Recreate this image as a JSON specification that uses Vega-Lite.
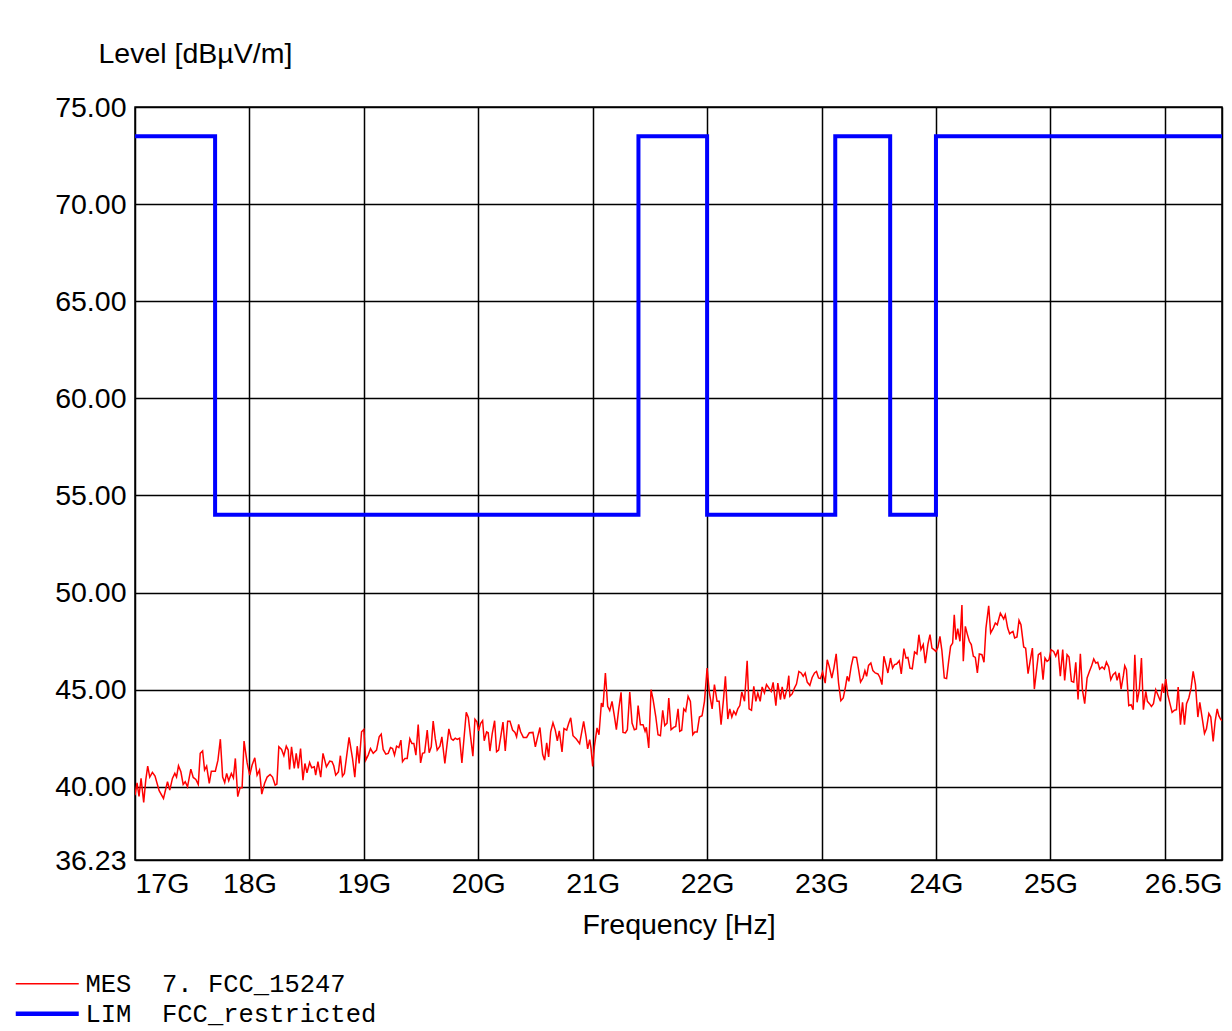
{
  "$schema": "https://vega.github.io/schema/vega-lite/v6.json",
  "width": 1087,
  "height": 753,
  "autosize": {"type": "none"},
  "padding": {"left": 135, "top": 107, "right": 10, "bottom": 171},
  "background": "white",
  "config": {
    "view": {"stroke": "#000", "strokeWidth": 1.5},
    "font": "Liberation Sans"
  },
  "datasets": {
    "lim": [
      {"f": 17, "v": 73.5}, {"f": 17.7, "v": 54}, {"f": 21.4, "v": 73.5}, {"f": 22, "v": 54},
      {"f": 23.12, "v": 73.5}, {"f": 23.6, "v": 54}, {"f": 24, "v": 73.5}, {"f": 26.5, "v": 73.5}
    ],
    "mes": [
      {"f":17.000,"v":39.57},{"f":17.018,"v":40.2},{"f":17.035,"v":39.5},{"f":17.053,"v":40.43},{"f":17.076,"v":39.2},
      {"f":17.094,"v":40.34},{"f":17.111,"v":41.06},{"f":17.129,"v":40.5},{"f":17.152,"v":40.74},{"f":17.175,"v":40.55},
      {"f":17.211,"v":39.8},{"f":17.249,"v":39.4},{"f":17.284,"v":40.26},{"f":17.304,"v":39.83},{"f":17.327,"v":40.43},
      {"f":17.348,"v":40.69},{"f":17.363,"v":40.5},{"f":17.380,"v":41.08},{"f":17.401,"v":40.77},{"f":17.421,"v":40.12},
      {"f":17.439,"v":40.26},{"f":17.459,"v":40.0},{"f":17.488,"v":40.91},{"f":17.509,"v":40.48},{"f":17.532,"v":40.38},
      {"f":17.553,"v":40.12},{"f":17.570,"v":41.72},{"f":17.591,"v":41.85},{"f":17.608,"v":40.86},{"f":17.626,"v":41.06},
      {"f":17.649,"v":40.17},{"f":17.667,"v":40.8},{"f":17.702,"v":40.8},{"f":17.725,"v":41.37},{"f":17.746,"v":42.45},
      {"f":17.766,"v":40.5},{"f":17.784,"v":40.22},{"f":17.801,"v":40.69},{"f":17.819,"v":40.31},{"f":17.842,"v":40.69},
      {"f":17.860,"v":40.46},{"f":17.877,"v":41.46},{"f":17.898,"v":39.49},{"f":17.918,"v":39.95},{"f":17.936,"v":39.95},
      {"f":17.953,"v":42.35},{"f":17.980,"v":41.23},{"f":18.003,"v":40.6},{"f":18.023,"v":41.11},{"f":18.047,"v":41.49},
      {"f":18.067,"v":40.6},{"f":18.088,"v":40.86},{"f":18.108,"v":39.62},{"f":18.132,"v":40.17},{"f":18.155,"v":40.5},
      {"f":18.181,"v":40.63},{"f":18.202,"v":40.5},{"f":18.225,"v":40.09},{"f":18.240,"v":40.14},{"f":18.257,"v":42.06},
      {"f":18.281,"v":41.92},{"f":18.301,"v":41.6},{"f":18.322,"v":42.09},{"f":18.339,"v":41.89},{"f":18.351,"v":40.89},
      {"f":18.368,"v":42.06},{"f":18.392,"v":40.94},{"f":18.409,"v":41.72},{"f":18.427,"v":40.94},{"f":18.447,"v":41.97},
      {"f":18.468,"v":40.34},{"f":18.485,"v":41.2},{"f":18.503,"v":40.72},{"f":18.526,"v":41.25},{"f":18.544,"v":40.98},
      {"f":18.567,"v":41.03},{"f":18.579,"v":40.6},{"f":18.599,"v":41.29},{"f":18.623,"v":40.5},{"f":18.643,"v":41.72},
      {"f":18.673,"v":41.03},{"f":18.702,"v":41.32},{"f":18.722,"v":41.29},{"f":18.737,"v":41.08},{"f":18.754,"v":40.6},
      {"f":18.778,"v":40.77},{"f":18.795,"v":41.6},{"f":18.813,"v":40.55},{"f":18.830,"v":40.69},{"f":18.871,"v":42.54},
      {"f":18.901,"v":41.46},{"f":18.921,"v":40.5},
      {"f":18.942,"v":42.09},{"f":18.959,"v":41.2},{"f":18.980,"v":42.83},{"f":19.000,"v":42.95},{"f":19.017,"v":41.37},
      {"f":19.038,"v":41.63},{"f":19.058,"v":41.97},{"f":19.082,"v":41.72},{"f":19.111,"v":41.89},{"f":19.134,"v":42.57},
      {"f":19.152,"v":42.71},{"f":19.169,"v":41.92},{"f":19.192,"v":41.68},{"f":19.213,"v":41.72},{"f":19.233,"v":42.02},
      {"f":19.251,"v":41.97},{"f":19.268,"v":41.63},{"f":19.286,"v":42.09},{"f":19.306,"v":42.02},{"f":19.324,"v":42.4},
      {"f":19.338,"v":41.29},{"f":19.359,"v":41.46},{"f":19.379,"v":41.46},{"f":19.402,"v":42.47},{"f":19.420,"v":42.23},
      {"f":19.437,"v":42.23},{"f":19.455,"v":41.63},{"f":19.475,"v":43.21},{"f":19.496,"v":41.23},{"f":19.513,"v":41.72},
      {"f":19.531,"v":41.75},{"f":19.554,"v":42.92},{"f":19.571,"v":41.75},{"f":19.589,"v":42.06},{"f":19.606,"v":43.38},
      {"f":19.624,"v":42.49},{"f":19.641,"v":41.89},{"f":19.665,"v":42.09},{"f":19.682,"v":42.57},{"f":19.708,"v":41.2},
      {"f":19.743,"v":42.98},{"f":19.764,"v":42.47},{"f":19.781,"v":42.4},{"f":19.799,"v":42.5},{"f":19.816,"v":42.44},
      {"f":19.837,"v":42.5},{"f":19.857,"v":41.23},{"f":19.895,"v":43.84},{"f":19.913,"v":43.57},{"f":19.933,"v":42.57},
      {"f":19.953,"v":41.58},{"f":19.971,"v":43.48},{"f":19.988,"v":43.35},{"f":20.003,"v":42.88},{"f":20.020,"v":43.26},
      {"f":20.038,"v":43.41},{"f":20.052,"v":42.37},{"f":20.073,"v":42.83},{"f":20.087,"v":42.78},{"f":20.102,"v":41.84},
      {"f":20.122,"v":42.74},{"f":20.143,"v":43.4},{"f":20.160,"v":41.8},{"f":20.178,"v":41.89},{"f":20.195,"v":42.52},
      {"f":20.216,"v":43.33},{"f":20.236,"v":41.85},{"f":20.257,"v":43.38},{"f":20.277,"v":43.38},{"f":20.300,"v":42.92},
      {"f":20.321,"v":42.8},{"f":20.335,"v":42.57},{"f":20.353,"v":43.21},{"f":20.370,"v":42.83},{"f":20.394,"v":42.54},
      {"f":20.423,"v":42.54},{"f":20.446,"v":42.78},{"f":20.478,"v":42.8},{"f":20.499,"v":42.06},{"f":20.519,"v":42.57},
      {"f":20.539,"v":43.05},{"f":20.563,"v":41.66},{"f":20.580,"v":41.37},{"f":20.598,"v":42.26},{"f":20.615,"v":41.54},
      {"f":20.633,"v":42.83},{"f":20.653,"v":43.3},{"f":20.673,"v":42.92},{"f":20.691,"v":42.37},{"f":20.708,"v":42.88},
      {"f":20.732,"v":41.8},{"f":20.749,"v":43.0},{"f":20.773,"v":42.92},{"f":20.790,"v":43.26},{"f":20.808,"v":43.55},
      {"f":20.828,"v":42.63},{"f":20.857,"v":42.46},{"f":20.886,"v":42.22},{"f":20.921,"v":43.37},{"f":20.942,"v":42.6},
      {"f":20.956,"v":41.95},{"f":20.974,"v":42.43},{"f":20.985,"v":42.0},{"f":21.000,"v":41.05},{"f":21.015,"v":42.08},
      {"f":21.038,"v":43.03},{"f":21.055,"v":42.68},{"f":21.076,"v":44.31},{"f":21.090,"v":44.11},{"f":21.111,"v":45.86},
      {"f":21.131,"v":44.14},{"f":21.149,"v":43.92},{"f":21.169,"v":44.4},{"f":21.190,"v":43.63},{"f":21.207,"v":42.94},
      {"f":21.227,"v":43.97},{"f":21.248,"v":44.86},{"f":21.265,"v":42.8},{"f":21.286,"v":42.77},{"f":21.303,"v":42.94},
      {"f":21.324,"v":44.88},{"f":21.344,"v":43.28},{"f":21.364,"v":42.94},{"f":21.382,"v":42.98},{"f":21.397,"v":44.18},
      {"f":21.417,"v":43.2},{"f":21.440,"v":43.2},{"f":21.458,"v":42.86},{"f":21.469,"v":43.06},{"f":21.490,"v":42.0},
      {"f":21.510,"v":45.0},{"f":21.528,"v":44.49},{"f":21.551,"v":43.63},{"f":21.571,"v":42.68},{"f":21.592,"v":42.63},
      {"f":21.612,"v":43.94},{"f":21.630,"v":43.15},{"f":21.650,"v":43.28},{"f":21.665,"v":44.57},{"f":21.685,"v":42.94},
      {"f":21.708,"v":43.06},{"f":21.726,"v":43.11},{"f":21.746,"v":44.01},{"f":21.761,"v":42.86},{"f":21.778,"v":42.91},
      {"f":21.796,"v":44.01},{"f":21.813,"v":43.89},{"f":21.834,"v":44.66},{"f":21.854,"v":44.4},{"f":21.875,"v":42.68},
      {"f":21.892,"v":42.82},{"f":21.913,"v":42.82},{"f":21.933,"v":43.59},{"f":21.956,"v":43.66},{"f":21.977,"v":44.4},
      {"f":22.000,"v":46.11},{"f":22.020,"v":44.83},{"f":22.044,"v":44.01},{"f":22.064,"v":45.26},{"f":22.087,"v":44.4},
      {"f":22.105,"v":44.4},{"f":22.122,"v":43.2},{"f":22.143,"v":44.49},{"f":22.160,"v":45.69},{"f":22.181,"v":43.49},
      {"f":22.198,"v":44.01},{"f":22.216,"v":43.59},{"f":22.233,"v":43.89},{"f":22.251,"v":43.71},{"f":22.268,"v":44.01},
      {"f":22.286,"v":44.18},{"f":22.303,"v":44.88},{"f":22.327,"v":44.4},{"f":22.350,"v":46.49},{"f":22.367,"v":44.01},
      {"f":22.388,"v":43.94},{"f":22.408,"v":45.17},{"f":22.426,"v":44.4},{"f":22.443,"v":44.83},{"f":22.464,"v":44.4},
      {"f":22.481,"v":45.14},{"f":22.501,"v":44.83},{"f":22.519,"v":45.26},{"f":22.539,"v":45.09},{"f":22.560,"v":44.91},
      {"f":22.577,"v":45.38},{"f":22.601,"v":44.18},{"f":22.618,"v":45.34},{"f":22.641,"v":44.49},{"f":22.656,"v":45.14},
      {"f":22.676,"v":44.52},{"f":22.700,"v":45.09},{"f":22.714,"v":45.72},
      {"f":22.723,"v":44.66},{"f":22.743,"v":44.78},{"f":22.764,"v":45.09},{"f":22.781,"v":45.29},{"f":22.802,"v":45.94},
      {"f":22.822,"v":45.86},{"f":22.840,"v":45.69},{"f":22.857,"v":45.86},{"f":22.875,"v":45.39},{"f":22.898,"v":45.22},
      {"f":22.918,"v":45.63},{"f":22.939,"v":45.86},{"f":22.956,"v":45.94},{"f":22.974,"v":45.6},{"f":22.991,"v":45.57},
      {"f":23.009,"v":45.91},{"f":23.032,"v":45.34},{"f":23.050,"v":46.54},{"f":23.067,"v":46.2},{"f":23.090,"v":45.6},
      {"f":23.108,"v":46.11},{"f":23.128,"v":46.84},{"f":23.149,"v":45.34},{"f":23.169,"v":44.43},{"f":23.190,"v":44.57},
      {"f":23.210,"v":45.17},{"f":23.224,"v":45.69},{"f":23.239,"v":45.43},{"f":23.259,"v":46.2},{"f":23.277,"v":46.68},
      {"f":23.306,"v":46.66},{"f":23.324,"v":46.03},{"f":23.341,"v":45.39},{"f":23.362,"v":45.6},{"f":23.379,"v":45.98},
      {"f":23.394,"v":45.69},{"f":23.411,"v":46.25},{"f":23.431,"v":46.37},{"f":23.449,"v":45.98},{"f":23.469,"v":45.86},
      {"f":23.493,"v":45.81},{"f":23.510,"v":45.63},{"f":23.528,"v":45.26},{"f":23.545,"v":46.72},{"f":23.563,"v":46.29},
      {"f":23.580,"v":45.86},{"f":23.603,"v":46.63},{"f":23.621,"v":46.11},{"f":23.638,"v":46.29},{"f":23.656,"v":46.32},
      {"f":23.679,"v":46.49},{"f":23.697,"v":45.81},{"f":23.720,"v":47.11},{"f":23.738,"v":46.63},{"f":23.755,"v":46.66},
      {"f":23.773,"v":46.11},{"f":23.793,"v":46.08},{"f":23.813,"v":46.94},{"f":23.834,"v":46.84},{"f":23.851,"v":47.83},
      {"f":23.869,"v":47.06},{"f":23.889,"v":47.32},{"f":23.907,"v":46.37},{"f":23.930,"v":47.35},{"f":23.948,"v":47.83},
      {"f":23.965,"v":47.14},{"f":23.983,"v":47.06},{"f":24.000,"v":46.97},{"f":24.017,"v":47.18},{"f":24.035,"v":47.74},
      {"f":24.052,"v":47.01},{"f":24.073,"v":45.6},{"f":24.093,"v":45.57},{"f":24.111,"v":46.46},{"f":24.128,"v":47.23},
      {"f":24.146,"v":47.4},{"f":24.160,"v":48.86},{"f":24.175,"v":47.57},{"f":24.190,"v":48.14},{"f":24.210,"v":47.49},
      {"f":24.227,"v":49.36},{"f":24.239,"v":46.46},{"f":24.257,"v":48.26},{"f":24.274,"v":47.86},{"f":24.292,"v":47.49},
      {"f":24.309,"v":47.32},{"f":24.327,"v":46.72},{"f":24.344,"v":46.66},{"f":24.362,"v":45.86},{"f":24.379,"v":46.84},
      {"f":24.402,"v":46.8},{"f":24.420,"v":46.41},{"f":24.437,"v":48.17},{"f":24.461,"v":49.32},{"f":24.478,"v":47.92},
      {"f":24.501,"v":48.17},{"f":24.519,"v":48.43},{"f":24.536,"v":48.34},
      {"f":24.563,"v":48.94},{"f":24.592,"v":48.64},{"f":24.606,"v":48.86},{"f":24.627,"v":48.17},{"f":24.644,"v":47.88},
      {"f":24.659,"v":47.95},{"f":24.673,"v":48.0},{"f":24.688,"v":47.66},{"f":24.708,"v":47.71},{"f":24.726,"v":48.57},
      {"f":24.743,"v":48.34},{"f":24.767,"v":47.2},{"f":24.784,"v":47.14},{"f":24.805,"v":45.82},{"f":24.825,"v":46.54},
      {"f":24.843,"v":47.14},{"f":24.860,"v":45.03},{"f":24.878,"v":45.94},{"f":24.895,"v":46.8},{"f":24.915,"v":46.89},
      {"f":24.936,"v":45.51},{"f":24.953,"v":46.63},{"f":24.971,"v":46.46},{"f":24.988,"v":46.54},{"f":25.006,"v":47.06},
      {"f":25.029,"v":46.97},{"f":25.047,"v":46.72},{"f":25.067,"v":47.06},{"f":25.087,"v":45.69},{"f":25.108,"v":47.06},
      {"f":25.125,"v":45.48},{"f":25.146,"v":46.8},{"f":25.163,"v":46.68},{"f":25.184,"v":45.43},{"f":25.204,"v":45.38},
      {"f":25.222,"v":46.41},{"f":25.242,"v":44.49},{"f":25.262,"v":46.85},{"f":25.280,"v":45.0},{"f":25.300,"v":44.28},
      {"f":25.321,"v":45.6},{"f":25.341,"v":45.94},{"f":25.359,"v":46.2},{"f":25.379,"v":46.58},{"f":25.397,"v":46.37},
      {"f":25.414,"v":46.41},{"f":25.431,"v":46.06},{"f":25.452,"v":46.17},{"f":25.472,"v":46.06},{"f":25.490,"v":46.42},
      {"f":25.510,"v":46.17},{"f":25.528,"v":45.51},{"f":25.548,"v":45.77},{"f":25.569,"v":45.89},{"f":25.583,"v":45.48},
      {"f":25.601,"v":45.86},{"f":25.618,"v":45.03},{"f":25.638,"v":45.72},{"f":25.650,"v":46.23},{"f":25.665,"v":46.03},
      {"f":25.685,"v":44.18},{"f":25.706,"v":44.23},{"f":25.723,"v":43.97},{"f":25.738,"v":46.8},{"f":25.758,"v":44.35},
      {"f":25.778,"v":45.03},{"f":25.796,"v":46.63},{"f":25.813,"v":43.97},{"f":25.834,"v":44.91},{"f":25.848,"v":44.4},
      {"f":25.866,"v":44.28},{"f":25.883,"v":44.14},{"f":25.901,"v":44.28},{"f":25.921,"v":45.0},{"f":25.939,"v":44.74},
      {"f":25.962,"v":44.4},{"f":25.980,"v":45.31},{"f":25.991,"v":44.83},{"f":26.009,"v":45.55},{"f":26.026,"v":44.74},
      {"f":26.044,"v":44.31},{"f":26.064,"v":43.83},{"f":26.085,"v":43.94},{"f":26.102,"v":43.97},{"f":26.117,"v":45.14},
      {"f":26.137,"v":43.2},{"f":26.155,"v":44.35},{"f":26.172,"v":43.2},{"f":26.190,"v":44.28},{"f":26.210,"v":44.57},
      {"f":26.230,"v":45.09},{"f":26.248,"v":45.94},{"f":26.268,"v":45.26},{"f":26.289,"v":43.59},{"f":26.306,"v":44.35},
      {"f":26.327,"v":43.54},{"f":26.347,"v":42.74},{"f":26.364,"v":42.98},{"f":26.385,"v":43.77},{"f":26.402,"v":43.59},
      {"f":26.423,"v":42.34},{"f":26.440,"v":43.37},{"f":26.458,"v":44.01},{"f":26.472,"v":43.66},{"f":26.487,"v":43.49},
      {"f":26.500,"v":43.4}
    ]
  },
  "layer": [
    {
      "data": {"name": "mes"},
      "mark": {"type": "line", "strokeWidth": 1.5, "clip": true},
      "encoding": {
        "x": {
          "field": "f", "type": "quantitative",
          "scale": {"domain": [17, 26.5], "nice": false, "zero": false},
          "axis": {
            "values": [17, 18, 19, 20, 21, 22, 23, 24, 25, 26, 26.5],
            "labelExpr": "datum.value == 26 ? '' : datum.value + 'G'",
            "labelFlush": true,
            "labelOverlap": false,
            "grid": true, "gridColor": "#000", "gridOpacity": 1, "gridWidth": 1.5,
            "ticks": false, "domain": false,
            "labelFont": "Liberation Sans", "labelFontSize": 28.5, "labelColor": "#000", "labelPadding": 9,
            "title": "Frequency [Hz]", "titleFont": "Liberation Sans", "titleFontSize": 28.5,
            "titleFontWeight": "normal", "titleColor": "#000", "titlePadding": 13
          }
        },
        "y": {
          "field": "v", "type": "quantitative",
          "scale": {"domain": [36.23, 75], "nice": false, "zero": false},
          "axis": {
            "values": [36.23, 40, 45, 50, 55, 60, 65, 70, 75],
            "format": ".2f",
            "labelOverlap": false,
            "labelFlush": false,
            "grid": true, "gridColor": "#000", "gridOpacity": 1, "gridWidth": 1.5,
            "ticks": false, "domain": false,
            "labelFont": "Liberation Sans", "labelFontSize": 28.5, "labelColor": "#000", "labelPadding": 9,
            "title": "Level [dBµV/m]", "titleFont": "Liberation Sans", "titleFontSize": 28.5,
            "titleFontWeight": "normal", "titleColor": "#000", "titleAngle": 0,
            "titleAlign": "left", "titleBaseline": "alphabetic", "titleX": -37, "titleY": -45
          }
        },
        "color": {
          "datum": "MES", "type": "nominal",
          "scale": {"domain": ["MES", "LIM"], "range": ["#ff0000", "#0000ff"]},
          "legend": {
            "orient": "none", "legendX": -127, "legendY": 864,
            "title": null, "padding": 0, "rowPadding": 3,
            "symbolType": "M-1,0H11.6", "symbolSize": 100, "symbolStrokeWidth": 1.5,
            "labelFont": "Liberation Mono", "labelFontSize": 25.5, "labelColor": "#000",
            "labelOffset": 52, "labelLimit": 600,
            "labelExpr": "datum.value == 'MES' ? 'MES\u00a0\u00a07.\u00a0FCC_15247' : 'LIM\u00a0\u00a0FCC_restricted'",
            "encode": {"symbols": {"update": {"strokeWidth": {"signal": "datum.value == 'LIM' ? 4.5 : 1.5"}}}}
          }
        }
      }
    },
    {
      "data": {"name": "lim"},
      "mark": {"type": "line", "strokeWidth": 4, "interpolate": "step-after", "strokeJoin": "miter", "strokeCap": "butt"},
      "encoding": {
        "x": {"field": "f", "type": "quantitative"},
        "y": {"field": "v", "type": "quantitative"},
        "color": {"datum": "LIM", "type": "nominal"}
      }
    }
  ]
}
